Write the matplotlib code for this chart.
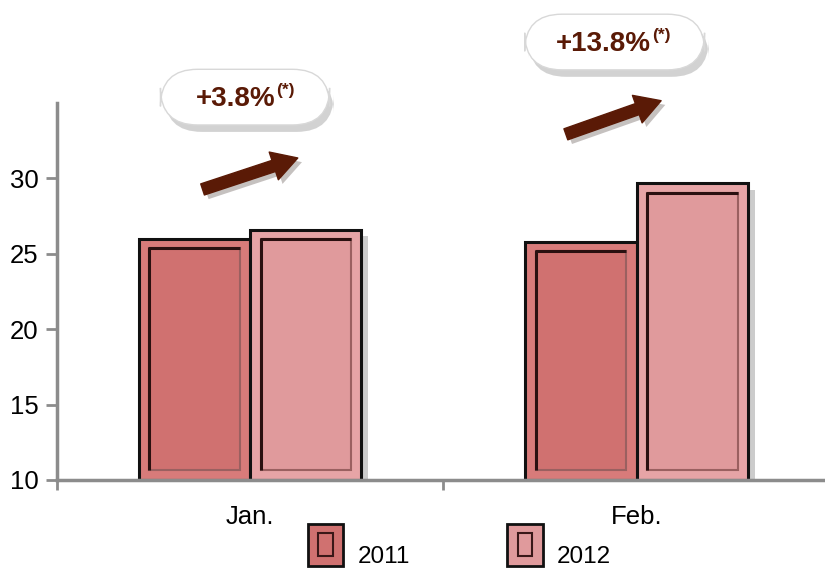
import matplotlib
matplotlib.use("Agg")
import matplotlib.pyplot as plt
import numpy as np
from matplotlib.patches import Rectangle, FancyBboxPatch
from matplotlib.legend_handler import HandlerBase
import matplotlib.patheffects as pe

plt.rcParams['font.family'] = ['Liberation Sans', 'DejaVu Sans']

months = ['Jan.', 'Feb.']
years = ['2011', '2012']
vals_2011 = [26.0, 25.8]
vals_2012 = [26.6, 29.7]
growth = ['+3.8%', '+13.8%']

col_2011 = '#d07170'
col_2012 = '#e09a9c'
frame_2011 = '#d87b7a'
frame_2012 = '#e6a4a6'
brown = '#5a1a06'
gray = '#8c8c8c'

fig = plt.figure(figsize=(8.25, 5.68), dpi=100)
ax = fig.add_axes([0.069, 0.155, 0.937, 0.664])

x = np.arange(len(months))
w = 0.288
shadow = [pe.SimplePatchShadow(offset=(5, -5), shadow_rgbFace='k', alpha=0.2), pe.Normal()]

def bevel(bars, base):
    # inner panel: dark top/left edges, soft right/bottom edges
    for b in bars:
        x0, y0 = b.get_x(), b.get_y()
        bw, bh = b.get_width(), b.get_height()
        dx, dy = 0.027, 0.65
        ax.add_patch(Rectangle((x0 + dx, y0 + dy), bw - 2 * dx, bh - 2 * dy,
                               facecolor=base, edgecolor='#9a6060', lw=1.5, zorder=3))
        ax.plot([x0 + dx, x0 + dx, x0 + bw - dx], [y0 + dy, y0 + bh - dy, y0 + bh - dy],
                color='#2a1010', lw=2.2, zorder=4, solid_capstyle='butt')

b1 = ax.bar(x - w / 2, np.array(vals_2011) - 10, w, bottom=10, color=frame_2011,
            edgecolor='#111111', lw=2.2, zorder=2, path_effects=shadow)
b2 = ax.bar(x + w / 2, np.array(vals_2012) - 10, w, bottom=10, color=frame_2012,
            edgecolor='#111111', lw=2.2, zorder=2, path_effects=shadow)
bevel(b1, col_2011)
bevel(b2, col_2012)

ax.set_xlim(-0.5, 1.5)
ax.set_ylim(10, 35)
ax.set_yticks([10, 15, 20, 25, 30])
ax.set_xticks([-0.5, 0.5, 1.5])
ax.set_xticklabels([])
ax.set_xticks(x, minor=True)
ax.set_xticklabels(months, minor=True)
ax.tick_params(axis='x', which='minor', length=0, pad=18, labelsize=18.5)
ax.tick_params(axis='x', which='major', length=7, width=2, color=gray, direction='out')
ax.tick_params(axis='y', length=8, width=2, color=gray, labelsize=18.5, pad=5)
for s in ['top', 'right']:
    ax.spines[s].set_visible(False)
for s in ['left', 'bottom']:
    ax.spines[s].set_color(gray)
    ax.spines[s].set_linewidth(2.5)

# growth callouts: (box centre, text split x) in figure fraction, arrow tail/head in data
callouts = [((0.297, 0.829), 0.334, (-0.13, 29.2), (0.13, 31.4)),
            ((0.745, 0.926), 0.789, (0.81, 32.85), (1.07, 35.2))]
for g, (pos, split, tail, head) in zip(growth, callouts):
    cx, cy = pos
    bw, bh = (0.205 if len(g) < 6 else 0.218), 0.098
    box = FancyBboxPatch((cx - bw / 2, cy - bh / 2), bw, bh,
                         boxstyle='round,pad=0,rounding_size=0.045', mutation_aspect=1.45,
                         transform=fig.transFigure, facecolor='white', edgecolor='#d8d8d8',
                         lw=1, path_effects=[pe.SimplePatchShadow(offset=(3, -5), alpha=0.25), pe.Normal()])
    fig.patches.append(box)
    fig.text(split, cy - 0.004, g, ha='right', va='center',
             fontsize=20, fontweight='bold', color=brown)
    fig.text(split + 0.001, cy + 0.011, '(*)', ha='left', va='center',
             fontsize=12.5, fontweight='bold', color=brown)
    ax.annotate('', xy=head, xytext=tail, annotation_clip=False,
                arrowprops=dict(arrowstyle='simple,head_width=1.5,head_length=1.3,tail_width=0.6',
                                color=brown, mutation_scale=14,
                                path_effects=[pe.SimplePatchShadow(offset=(3, -3), alpha=0.25), pe.Normal()]))


class HandlerBevel(HandlerBase):
    # framed key raised above the label baseline
    def create_artists(self, legend, orig, xd, yd, width, height, fontsize, trans):
        fc = orig.get_facecolor()
        y0 = -yd + height * 0.3
        h = height * 0.88
        outer = Rectangle((-xd, y0), width, h, facecolor=fc, edgecolor='#111111',
                          lw=2, transform=trans)
        inner = Rectangle((-xd + width * 0.3, y0 + h * 0.22), width * 0.4, h * 0.56,
                          facecolor=fc, edgecolor='#3a1818', lw=1.5, transform=trans)
        return [outer, inner]


handles = [Rectangle((0, 0), 1, 1, facecolor=col_2011), Rectangle((0, 0), 1, 1, facecolor=col_2012)]
fig.legend(handles, years, loc='center', bbox_to_anchor=(0.557, 0.021), ncol=2,
           frameon=False, fontsize=17.5, handlelength=1.45, handleheight=2.65,
           handletextpad=0.6, columnspacing=4.0,
           handler_map={Rectangle: HandlerBevel()})

fig.savefig('out.png', dpi=100)
